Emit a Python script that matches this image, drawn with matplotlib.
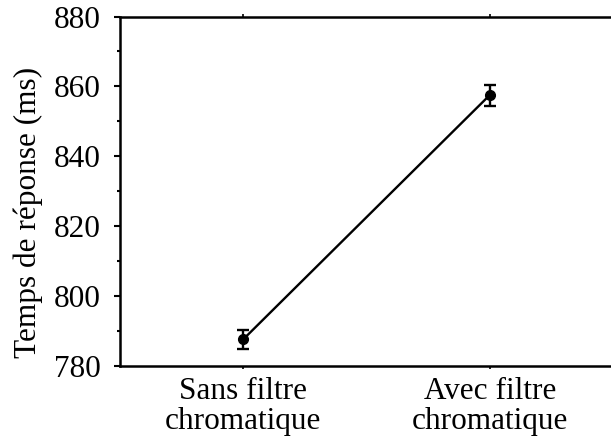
"""Response time with and without chromatic filter"""

import matplotlib
matplotlib.use("Agg")
import matplotlib.pyplot as plt
from matplotlib.ticker import MultipleLocator

# Mean response times and their error bars
conditions = ["Sans filtre\nchromatique", "Avec filtre\nchromatique"]
mean_rt = [787.5, 857.5]
err_rt = [2.7, 3.0]

plt.rcParams["font.family"] = ["Liberation Serif", "DejaVu Serif"]

fig = plt.figure(figsize=(6.11, 4.37), dpi=100)
ax = fig.add_axes([0.1964, 0.1636, 0.815, 0.7986])

x = list(range(len(conditions)))
ax.errorbar(x, mean_rt, yerr=err_rt, color="black", linewidth=1.7,
            marker="o", markersize=7, capsize=4, capthick=1.7, elinewidth=1.7)

ax.set_xlim(-0.5, 1.52)
ax.set_ylim(780, 880)
ax.yaxis.set_major_locator(MultipleLocator(20))
ax.yaxis.set_minor_locator(MultipleLocator(10))
ax.set_xticks(x)
ax.set_xticklabels(conditions, fontsize=22.5, linespacing=1.08)
ax.set_ylabel("Temps de réponse (ms)", fontsize=22.5)
ax.yaxis.set_label_coords(-0.155, 0.44)
ax.tick_params(axis="y", labelsize=22.5, width=1.5, length=4, pad=10)
ax.tick_params(axis="y", which="minor", width=1.5, length=2.5)
ax.tick_params(axis="x", width=1.2, length=2.5, pad=5.5, top=True)

for side in ["left", "top", "bottom"]:
    ax.spines[side].set_linewidth(1.8)
ax.spines["right"].set_visible(False)

fig.savefig("out.png", dpi=100)
